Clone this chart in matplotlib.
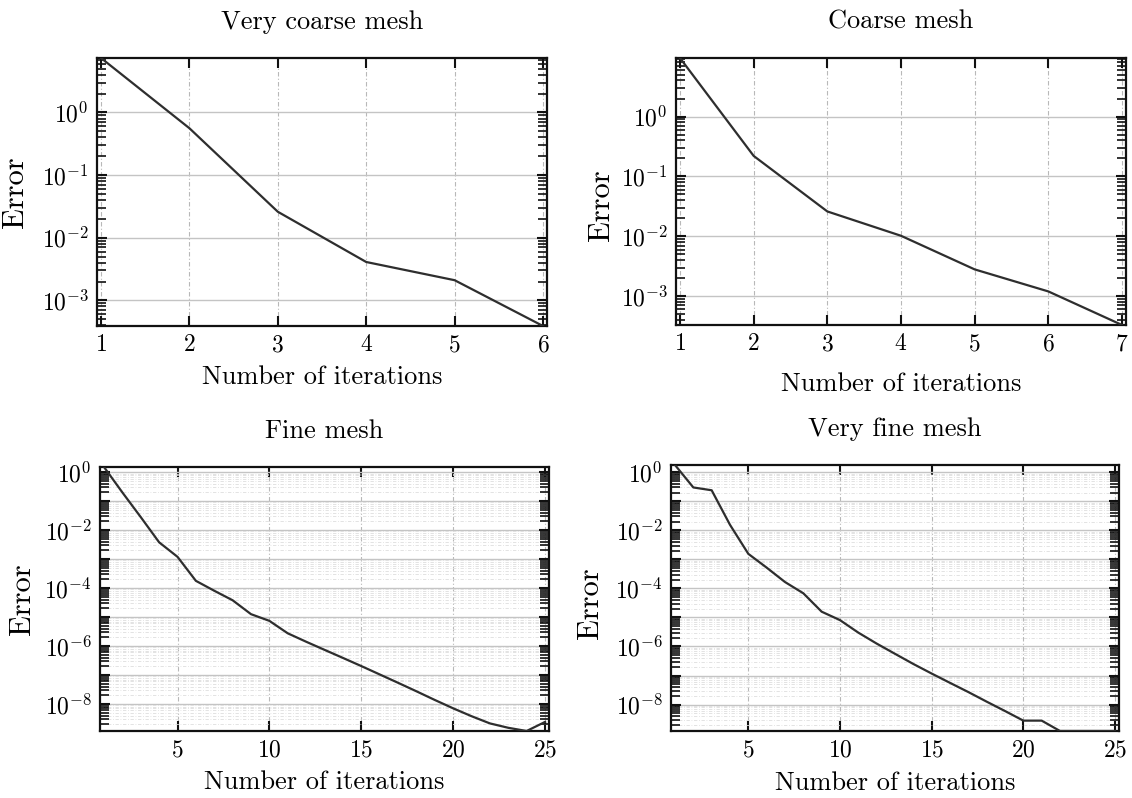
import numpy as np
import matplotlib
matplotlib.use("Agg")
import matplotlib.pyplot as plt
from matplotlib.ticker import LogLocator, FuncFormatter, NullFormatter, FixedLocator

plt.rcParams['font.family'] = 'serif'
plt.rcParams['font.serif'] = ['cmr10']
plt.rcParams['mathtext.fontset'] = 'cm'
plt.rcParams['axes.unicode_minus'] = False

# ---------------- data ----------------
iters_vc = [1, 2, 3, 4, 5, 6]
err_vc = [7.4, 0.56, 0.026, 0.0041, 0.0021, 3.9e-4]

iters_c = [1, 2, 3, 4, 5, 6, 7]
err_c = [9.5, 0.22, 0.026, 0.0102, 0.0028, 0.0012, 3.3e-4]

iters_f = list(range(1, 26))
err_f = [1.51, 0.200, 0.0282, 3.80e-3, 1.20e-3, 1.78e-4, 8.1e-5, 3.8e-5,
         1.26e-5, 7.4e-6, 2.75e-6, 1.41e-6, 7.4e-7, 3.9e-7, 2.04e-7, 1.05e-7,
         5.4e-8, 2.75e-8, 1.38e-8, 7.1e-9, 3.8e-9, 2.14e-9, 1.51e-9, 1.17e-9,
         2.4e-9]

iters_vf = list(range(1, 26))
err_vf = [1.78, 0.30, 0.24, 0.0155, 1.55e-3, 5.2e-4, 1.66e-4, 6.8e-5,
          1.58e-5, 8.1e-6, 3.0e-6, 1.26e-6, 5.6e-7, 2.5e-7, 1.17e-7, 5.6e-8,
          2.7e-8, 1.26e-8, 6.0e-9, 2.8e-9, 2.8e-9, 1.23e-9, 1.23e-9, 1.23e-9,
          1.23e-9]

titles = ["Very coarse mesh", "Coarse mesh", "Fine mesh", "Very fine mesh"]
xticks_vc = [1, 2, 3, 4, 5, 6]
xticks_c = [1, 2, 3, 4, 5, 6, 7]
xticks_f = [5, 10, 15, 20, 25]
xlabel = "Number of iterations"
ylabel = "Error"

W, H = 1132, 798
fig = plt.figure(figsize=(W / 100, H / 100), dpi=100)


def add_ax(l, r, t, b):
    return fig.add_axes([l / W, 1 - b / H, (r - l) / W, (b - t) / H])


panels = [
    dict(box=(97, 547, 58, 326), x=iters_vc, y=err_vc, xt=xticks_vc, every=1,
         ylab=(-0.15, 0.5), xlab=-0.146),
    dict(box=(676, 1126, 58, 325), x=iters_c, y=err_c, xt=xticks_c, every=1,
         ylab=(-0.136, 0.45), xlab=-0.176),
    dict(box=(100, 549, 467, 731), x=iters_f, y=err_f, xt=xticks_f, every=2,
         ylab=(-0.143, 0.5), xlab=-0.148),
    dict(box=(671, 1119, 465, 731), x=iters_vf, y=err_vf, xt=xticks_f, every=2,
         ylab=(-0.15, 0.48), xlab=-0.15),
]

for p, title in zip(panels, titles):
    l, r, t, b = p['box']
    ax = add_ax(l, r, t, b)
    xs, ys = p['x'], p['y']
    n0, n1 = min(xs), max(xs)
    wpx = r - l
    m = 4.0 * (n1 - n0) / (wpx - 8)
    ax.set_yscale('log')
    ax.plot(xs, ys, color='#2e2e2e', lw=1.6, zorder=3)
    ax.set_xlim(n0 - m, n1 + m)
    ax.set_ylim(min(ys), max(ys))

    ax.xaxis.set_major_locator(FixedLocator(p['xt']))
    ax.xaxis.set_major_formatter(FuncFormatter(lambda v, pos: r'$%d$' % round(v)))
    ax.yaxis.set_major_locator(LogLocator(base=10, subs=(1.0,), numticks=30))
    ax.yaxis.set_minor_locator(LogLocator(base=10, subs=np.arange(2, 10), numticks=300))
    ax.yaxis.set_minor_formatter(NullFormatter())
    every = p['every']

    def fmt(v, pos, every=every):
        e = int(round(np.log10(v)))
        if e % every != 0:
            return ''
        return r'$10^{%d}$' % e
    ax.yaxis.set_major_formatter(FuncFormatter(fmt))

    ax.tick_params(axis='both', which='major', direction='in', length=7, width=1.5,
                   top=True, right=True, labelsize=17, color='#111111', pad=6)
    ax.tick_params(axis='y', which='minor', direction='in', length=6.5, width=1.2,
                   left=True, right=True, color='#111111')
    ax.tick_params(axis='x', which='minor', bottom=False, top=False)

    ax.grid(True, axis='x', which='major', color='#b8b8b8', lw=0.8,
            linestyle=(0, (4, 2, 1, 2)))
    ax.grid(True, axis='y', which='major', color='#c4c4c4', lw=1.0, linestyle='-')
    if every == 2:
        ax.grid(True, axis='y', which='minor', color='#dedede', lw=0.6,
                linestyle=(0, (4, 2, 1, 2)))
    ax.set_axisbelow(True)

    for s in ax.spines.values():
        s.set_linewidth(1.6)
        s.set_color('#111111')

    ax.set_title(title, fontsize=19, pad=21)
    ax.set_xlabel(xlabel, fontsize=19)
    ax.set_ylabel(ylabel, fontsize=22)
    ax.xaxis.set_label_coords(0.5, p['xlab'])
    ax.yaxis.set_label_coords(*p['ylab'])
    ax.xaxis.label.set_va('top')

fig.savefig('out.png', dpi=100, facecolor='white')
